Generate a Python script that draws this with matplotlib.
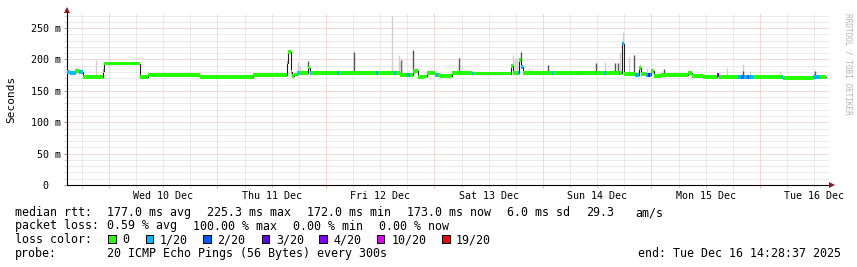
import datetime
import numpy as np
import matplotlib
matplotlib.use("Agg")
import matplotlib.pyplot as plt
from matplotlib.ticker import FixedLocator, FuncFormatter
from matplotlib.patches import Rectangle

plt.rcParams['font.family'] = ['DejaVu Sans Mono']

# ---------------- data (hours since Tue 9 Dec 2025 00:00) ----------------
BASE = datetime.datetime(2025, 12, 9)
T_START = 14.71
T_END = 183.27
DATA_END = 182.6

# median rtt segments: start hour, median (ms), loss level index
seg_t = [14.71, 15.2, 15.4, 16.5, 17.4, 18.25, 22.67, 22.9, 30.86, 32.63,
         44.13, 55.85, 63.37, 63.6, 64.3, 64.5, 65.0, 65.5, 65.7, 66.0,
         68.0, 68.4, 68.7, 74.5, 74.8, 83.1, 83.4, 87.1, 87.4, 88.37,
         90.0, 90.5, 91.25, 92.35, 93.46, 94.34, 96.11, 96.4, 96.7, 97.22,
         99.87, 104.3, 104.6, 113.0, 113.35, 114.5, 114.8, 115.2, 115.6, 122.0,
         122.3, 127.5, 127.8, 131.5, 131.75, 133.6, 133.9, 136.8, 137.1, 137.55,
         137.85, 138.0, 140.35, 141.3, 141.6, 142.8, 143.3, 143.6, 143.89, 144.5,
         146.0, 152.0, 152.9, 155.4, 158.5, 158.8, 159.0, 163.1, 163.7, 164.5,
         165.1, 165.6, 166.4, 172.7, 173.0, 179.7, 181.3]
seg_ms = [180.5, 180.5, 179.0, 181.0, 180.5, 171.5, 182.0, 193.5, 171.5, 174.7,
          172.0, 175.0, 195.0, 211.5, 180.0, 174.0, 176.0, 178.0, 178.0, 178.0,
          187.0, 178.0, 178.0, 178.0, 178.0, 178.0, 178.0, 178.0, 178.0, 174.7,
          174.7, 174.7, 182.0, 171.5, 173.0, 178.0, 175.0, 175.0, 175.0, 173.5,
          178.0, 177.5, 177.5, 190.0, 178.0, 178.0, 199.0, 188.0, 178.0, 178.0,
          178.0, 178.0, 178.0, 178.0, 178.0, 178.0, 178.0, 178.0, 178.0, 225.3,
          178.0, 177.0, 174.7, 186.0, 177.0, 174.7, 174.7, 174.7, 181.0, 173.6,
          175.7, 178.0, 173.6, 172.5, 174.7, 174.7, 172.5, 172.5, 171.5, 171.5,
          171.5, 172.0, 171.5, 171.5, 170.5, 172.5, 172.5]
seg_loss = [1, 0, 1, 0, 1, 0, 0, 0, 0, 0,
            0, 0, 0, 0, 0, 0, 0, 0, 1, 0,
            0, 1, 0, 1, 0, 1, 0, 1, 0, 0,
            1, 0, 0, 0, 0, 0, 0, 1, 0, 0,
            0, 1, 0, 0, 0, 1, 0, 1, 0, 1,
            0, 1, 0, 1, 0, 1, 0, 1, 0, 1,
            0, 0, 1, 0, 0, 1, 3, 1, 0, 0,
            0, 0, 0, 0, 6, 4, 0, 1, 2, 1,
            2, 1, 0, 1, 0, 1, 0]

# smoke spikes: hour, top (ms), shade
smoke_t = [16.7, 21.1, 65.8, 66.2, 68.1, 69.1, 78.19, 86.5, 86.7, 88.1,
           88.5, 88.8, 91.3, 101.4, 113.3, 113.8, 114.3, 115.1, 116.8, 117.5,
           121.1, 122.2, 131.7, 133.7, 135.9, 136.6, 137.0, 137.7, 137.7, 139.0,
           140.1, 141.4, 142.9, 146.8, 160.7, 164.2, 164.2, 165.8, 172.4, 180.2]
smoke_top = [188, 199, 196, 190, 197, 182, 212, 194, 270, 207,
             199, 200, 215, 202, 207, 200, 203, 212, 187, 185,
             191, 182, 194, 196, 195, 195, 212, 244, 228, 204,
             207, 193, 186, 184, 186, 192, 182, 182, 181, 182]
smoke_shade = ['l', 'l', 'l', 'l', 'd', 'l', 'd', 'l', 'l', 'l',
               'd', 'l', 'd', 'd', 'l', 'l', 'l', 'd', 'l', 'l',
               'd', 'l', 'd', 'l', 'd', 'd', 'l', 'l', 'd', 'l',
               'd', 'l', 'l', 'd', 'l', 'l', 'd', 'l', 'l', 'd']

loss_labels = ['0', '1/20', '2/20', '3/20', '4/20', '10/20', '19/20']
loss_colors = ['#26ff00', '#00b8ff', '#0059ff', '#5e00ff', '#7e00ff', '#dd00ff', '#ff0000']

stats_rtt = ['177.0 ms avg', '225.3 ms max', '172.0 ms min', '173.0 ms now', '6.0 ms sd', '29.3', 'am/s']
stats_loss = ['0.59 % avg', '100.00 % max', '0.00 % min', '0.00 % now']
probe_text = '20 ICMP Echo Pings (56 Bytes) every 300s'
end_text = 'end: Tue Dec 16 14:28:37 2025'

# ---------------- figure ----------------
W, H = 857, 267
fig = plt.figure(figsize=(W / 100, H / 100), dpi=100)
fig.patch.set_facecolor('white')

def fx(x):
    return x / W

def fy(y):
    return 1 - y / H

ax = fig.add_axes([fx(67), fy(185), 762 / W, 172 / H])
ax.set_xlim(T_START, T_END)
ax.set_ylim(0, 274)

MAJ = '#eab4b4'
MIN = '#d6d6d6'
dot = (0, (1, 1))

# grid / ticks
ax.xaxis.set_major_locator(FixedLocator(np.arange(24, 180, 24)))
ax.xaxis.set_minor_locator(FixedLocator(np.arange(18, 184, 6)))
ax.yaxis.set_major_locator(FixedLocator(np.arange(0, 260, 50)))
ax.yaxis.set_minor_locator(FixedLocator(np.arange(10, 274, 10)))

def day_label(h, pos):
    if abs(h % 24 - 12) < 1e-6:
        return (BASE + datetime.timedelta(hours=float(h))).strftime('%a %d Dec')
    return ''

ax.xaxis.set_major_formatter(FuncFormatter(lambda h, p: ''))
ax.xaxis.set_minor_formatter(FuncFormatter(day_label))
ax.yaxis.set_major_formatter(FuncFormatter(lambda v, p: '0  ' if v == 0 else f'{v:.0f} m'))

ax.grid(which='major', color=MAJ, linestyle=dot, linewidth=0.72)
ax.grid(which='minor', color=MIN, linestyle=dot, linewidth=0.72)
ax.set_axisbelow(True)
ax.tick_params(which='major', direction='out', length=2.4, width=0.72, color=MAJ,
               labelsize=7.2, pad=2.2, labelcolor='black')
ax.tick_params(which='minor', direction='out', length=2.4, width=0.72, color=MIN,
               labelsize=7.2, pad=2.2, labelcolor='black')
ax.tick_params(axis='y', which='major', color='#999999')

for s in ['top', 'right']:
    ax.spines[s].set_visible(False)
for s in ['left', 'bottom']:
    ax.spines[s].set_color('black')
    ax.spines[s].set_linewidth(0.8)

# arrows
ax.plot([1.0035], [0], marker='>', markersize=4.2, color='#8b1a1a', transform=ax.transAxes,
        clip_on=False, zorder=10, markeredgewidth=0)
ax.plot([0], [1.015], marker='^', markersize=4.2, color='#8b1a1a', transform=ax.transAxes,
        clip_on=False, zorder=10, markeredgewidth=0)

# ---------------- data drawing ----------------
seg_t_a = np.array(seg_t)
seg_ms_a = np.array(seg_ms)
seg_end = np.append(seg_t_a[1:], DATA_END)
widths = seg_end - seg_t_a

# smoke
sm_t = np.array(smoke_t)
idx = np.searchsorted(seg_t_a, sm_t, side='right') - 1
sm_bottom = seg_ms_a[idx]
shade_map = {'l': '#cfcfcf', 'm': '#9a9a9a', 'd': '#555555'}
ax.vlines(sm_t, sm_bottom, smoke_top, colors=[shade_map[s] for s in smoke_shade],
          linewidth=1.0, zorder=2)

# median line
ax.step(np.append(seg_t_a, DATA_END), np.append(seg_ms_a, seg_ms_a[-1]), where='post',
        color='#202020', linewidth=0.8, zorder=3)

# loss-coloured band
SW = 3.0
ax.bar(seg_t_a, 2 * SW, width=widths, bottom=seg_ms_a - SW, align='edge',
       color=[loss_colors[l] for l in seg_loss], linewidth=0, zorder=4)

# ---------------- texts ----------------
fig.text(fx(11), fy(99), 'Seconds', rotation=90, ha='center', va='center', fontsize=8.0)
fig.text(fx(848), fy(64), 'RRDTOOL / TOBI OETIKER', rotation=270, ha='center', va='center',
         fontsize=5.6, color='#b4b4b4')

FS = 8.35
off = 0.7

def put(x, y, s):
    fig.text(fx(x - off), fy(y), s, ha='left', va='baseline', fontsize=FS, color='black')

put(16, 216, 'median rtt:')
for x, s in zip([107.3, 207.3, 307.3, 407.3, 507.3, 586.7, 636.0], stats_rtt):
    put(x, 216, s)

put(16, 229.5, 'packet loss:')
for x, s in zip([107.3, 193.3, 293.3, 380.0], stats_loss):
    put(x, 229.5, s)

put(16, 243.2, 'loss color:')
box_x = [108.3, 145.7, 203.3, 261.7, 319.3, 376.7, 442.3]
lab_x = [123.3, 160.7, 218.3, 276.7, 334.3, 392.3, 456.7]
for bx, lx, c, s in zip(box_x, lab_x, loss_colors, loss_labels):
    fig.patches.append(Rectangle((fx(bx), fy(243.3)), 7.3 / W, 8.0 / H, transform=fig.transFigure,
                                 facecolor=c, edgecolor='black', linewidth=0.72))
    put(lx, 243.2, s)

put(16, 256.8, 'probe:')
put(107.3, 256.8, probe_text)
put(638.3, 256.8, end_text)

fig.savefig('out.png', dpi=100, facecolor='white')
